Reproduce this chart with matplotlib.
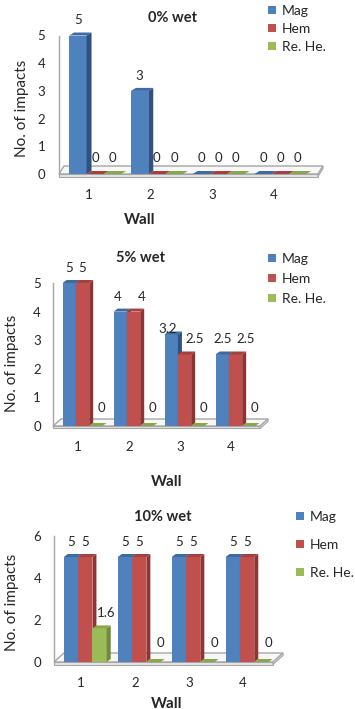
import matplotlib
matplotlib.use('Agg')
import matplotlib.pyplot as plt
from matplotlib.patches import Polygon, Patch

plt.rcParams['font.family'] = ['Lato', 'DejaVu Sans']

# ---------------- data ----------------
walls = [1, 2, 3, 4]
series_names = ['Mag', 'Hem', 'Re. He.']
titles = ['0% wet', '5% wet', '10% wet']
mag_0 = [5, 3, 0, 0]
hem_0 = [0, 0, 0, 0]
rehe_0 = [0, 0, 0, 0]
mag_5 = [5, 4, 3.2, 2.5]
hem_5 = [5, 4, 2.5, 2.5]
rehe_5 = [0, 0, 0, 0]
mag_10 = [5, 5, 5, 5]
hem_10 = [5, 5, 5, 5]
rehe_10 = [1.6, 0, 0, 0]
yticks_0 = [0, 1, 2, 3, 4, 5]
yticks_5 = [0, 1, 2, 3, 4, 5]
yticks_10 = [0, 2, 4, 6]
xlabel = 'Wall'
ylabel = 'No. of impacts'

# ---------------- style ----------------
W, H = 355, 709
front = ['#4F81BD', '#C0504D', '#9BBB59']
side = ['#2F5284', '#8E3533', '#6F8B3A']
top = ['#3E6AA0', '#A4413E', '#88A74B']
txt = '#262626'
grid = '#A6A6A6'
FS = 9.5

fig = plt.figure(figsize=(W / 100, H / 100), dpi=100)

def fx(px):
    return px / W

def fy(py):
    return 1 - py / H

panels = [
    dict(data=[mag_0, hem_0, rehe_0], yticks=yticks_0, title=titles[0],
         left=59, right=318, ybot=174, ytop=174 - 5 * 27.7, xlim=(0.514, 4.71), ylim=(0, 5),
         delta=0.10, w=0.28, depth=(5, 3), floor=(5, 8), tickpad=10,
         title_pos=(173, 18), ylab_pos=(22, 108), xlab_pos=(140, 220),
         leg_x=268, leg_top=5, leg_space=0.44, green_dx=0, zero_dy=16,
         nudge={}),
    dict(data=[mag_5, hem_5, rehe_5], yticks=yticks_5, title=titles[1],
         left=53, right=260, ybot=426, ytop=426 - 5 * 28.6, xlim=(0.51, 4.57), ylim=(0, 5),
         delta=0.09, w=0.26, depth=(4, 3), floor=(8, 7), tickpad=8.6,
         title_pos=(140, 258), ylab_pos=(12, 363), xlab_pos=(167, 482),
         leg_x=268, leg_top=253, leg_space=0.58, green_dx=6, zero_dy=18,
         nudge={(0, 1): (-3, 0), (1, 1): (8, 0), (0, 2): (-4, -10), (1, 2): (10, 0),
                (1, 3): (10, 0)}),
    dict(data=[mag_10, hem_10, rehe_10], yticks=yticks_10, title=titles[2],
         left=54, right=273, ybot=662, ytop=662 - 6 * 21, xlim=(0.5, 4.56), ylim=(0, 6),
         delta=0.08, w=0.265, depth=(4, 3), floor=(10, 9), tickpad=9,
         title_pos=(163, 517), ylab_pos=(12, 602), xlab_pos=(167, 704),
         leg_x=296, leg_top=511, leg_space=1.16, green_dx=7, zero_dy=19,
         nudge={}),
]

for p in panels:
    ax = fig.add_axes([fx(p['left']), fy(p['ybot']),
                       fx(p['right'] - p['left']), (p['ybot'] - p['ytop']) / H])
    ax.set_xlim(*p['xlim'])
    ax.set_ylim(*p['ylim'])
    ax.patch.set_visible(False)
    for s in ['top', 'right', 'bottom']:
        ax.spines[s].set_visible(False)
    ax.spines['left'].set_color(grid)
    ax.spines['left'].set_linewidth(1.0)

    # data units per pixel
    ux = (p['xlim'][1] - p['xlim'][0]) / (p['right'] - p['left'])
    uy = (p['ylim'][1] - p['ylim'][0]) / (p['ybot'] - p['ytop'])
    ddx, ddy = p['depth'][0] * ux, p['depth'][1] * uy
    fdx, fdy = p['floor'][0] * ux, p['floor'][1] * uy
    x0, x1 = p['xlim']

    # floor slab
    ax.add_patch(Polygon([(x0, 0), (x1, 0), (x1 + fdx, fdy), (x0 + fdx, fdy)],
                         closed=True, facecolor='#F7F7F7', edgecolor=grid,
                         linewidth=1.0, zorder=1, clip_on=False))
    ax.add_patch(Polygon([(x0, 0), (x1, 0), (x1, -2.5 * uy), (x0, -2.5 * uy)],
                         closed=True, facecolor='#E6E6E6', edgecolor=grid,
                         linewidth=0.8, zorder=1, clip_on=False))
    ax.add_patch(Polygon([(x1, 0), (x1 + fdx, fdy), (x1 + fdx, fdy - 2.5 * uy), (x1, -2.5 * uy)],
                         closed=True, facecolor='#D9D9D9', edgecolor=grid,
                         linewidth=0.8, zorder=1, clip_on=False))

    w = p['w']
    handles = []
    for i, vals in enumerate(p['data']):
        xs = [c + p['delta'] + (i - 1) * w for c in walls]
        bars = ax.bar(xs, vals, width=w, color=front[i], edgecolor='none',
                      zorder=3 + i * 0.01, clip_on=False, label=series_names[i])
        handles.append(Patch(facecolor=front[i], edgecolor='none'))
        for j, b in enumerate(bars):
            bx, bw, bh = b.get_x(), b.get_width(), b.get_height()
            if bh > 0:
                ax.add_patch(Polygon([(bx + bw, 0), (bx + bw + ddx, ddy),
                                      (bx + bw + ddx, bh + ddy), (bx + bw, bh)],
                                     closed=True, facecolor=side[i], edgecolor='none',
                                     zorder=3 + i * 0.01, clip_on=False))
            ax.add_patch(Polygon([(bx, bh), (bx + bw, bh), (bx + bw + ddx, bh + ddy),
                                  (bx + ddx, bh + ddy)],
                                 closed=True, facecolor=top[i], edgecolor='none',
                                 zorder=3 + i * 0.01, clip_on=False))
            lab = '%g' % bh
            ox, oy = p['nudge'].get((i, j), (0, 0))
            if i == 2:
                ox += p['green_dx']
            base = p['zero_dy'] if bh == 0 else 15
            ax.annotate(lab, (bx + bw / 2, bh), xytext=(ox * 0.72, (base + oy) * 0.72),
                        textcoords='offset points', ha='center', va='center',
                        fontsize=FS, color=txt, zorder=10, annotation_clip=False)

    ax.set_yticks(p['yticks'])
    ax.set_xticks(walls)
    ax.tick_params(axis='y', length=0, pad=p['tickpad'], labelsize=FS, labelcolor=txt)
    ax.tick_params(axis='x', length=0, pad=11, labelsize=FS, labelcolor=txt)

    fig.text(fx(p['title_pos'][0]), fy(p['title_pos'][1]), p['title'], ha='center',
             va='center', fontsize=10.5, fontweight='bold', color=txt)
    fig.text(fx(p['ylab_pos'][0]), fy(p['ylab_pos'][1]), ylabel, ha='center',
             va='center', rotation=90, fontsize=11, color=txt)
    fig.text(fx(p['xlab_pos'][0]), fy(p['xlab_pos'][1]), xlabel, ha='center',
             va='center', fontsize=11, fontweight='bold', color=txt)

    ax.legend(handles, series_names, loc='upper left',
              bbox_to_anchor=(fx(p['leg_x']), fy(p['leg_top'])),
              bbox_transform=fig.transFigure, frameon=False, borderpad=0,
              borderaxespad=0, handlelength=0.55, handleheight=0.55,
              handletextpad=0.45, labelspacing=p['leg_space'], fontsize=10,
              labelcolor=txt)

fig.savefig('out.png', dpi=100)
